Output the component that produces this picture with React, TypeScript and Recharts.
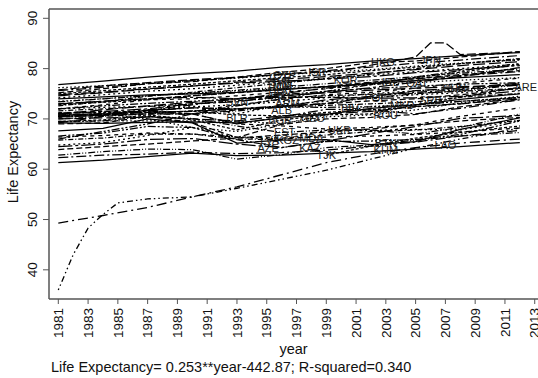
import React from 'react';
import { ComposedChart, Line, Scatter, XAxis, YAxis, ReferenceLine, Label } from 'recharts';

// ---- data ----
const YEARS = [1981, 1984, 1987, 1990, 1993, 1996, 1999, 2002, 2005, 2008, 2012];

const JPN = [76.8, 77.5, 78.3, 79.0, 79.5, 80.3, 80.8, 81.5, 82.0, 82.6, 83.2];
const HKG = [75.2, 76.0, 77.0, 77.4, 78.3, 79.3, 80.0, 81.2, 81.5, 82.3, 83.4];
const CHE = [75.6, 76.3, 77.0, 77.6, 78.2, 78.9, 79.6, 80.3, 81.1, 81.7, 82.6];
const AUS = [75.0, 75.6, 76.3, 76.9, 77.6, 78.2, 78.8, 79.6, 80.3, 81.0, 81.8];
const SWE = [76.2, 76.6, 77.1, 77.6, 78.1, 78.8, 79.3, 79.8, 80.5, 81.1, 81.7];
const ISR = [74.6, 75.2, 75.9, 76.5, 77.3, 77.9, 78.4, 79.1, 79.8, 80.6, 81.4];
const SGP = [72.6, 73.4, 74.5, 75.3, 76.2, 77.1, 78.0, 78.9, 80.0, 81.0, 82.0];
const KOR = [66.0, 67.5, 69.0, 71.0, 72.6, 74.0, 75.5, 76.8, 78.3, 79.6, 81.0];
const CYP = [74.2, 74.8, 75.5, 76.0, 76.7, 77.4, 78.1, 78.7, 79.4, 80.0, 80.9];
const GRC = [74.8, 75.3, 76.0, 76.6, 77.1, 77.5, 77.9, 78.4, 79.2, 79.8, 80.6];
const PRT = [72.0, 72.8, 73.8, 74.0, 74.6, 75.3, 76.0, 76.8, 77.6, 78.5, 80.2];
const MLT = [73.4, 74.0, 74.6, 75.1, 75.7, 76.3, 77.0, 77.7, 78.4, 79.1, 79.9];
const CUB = [74.0, 74.4, 74.8, 75.0, 75.3, 75.8, 76.4, 77.0, 77.6, 78.2, 78.8];
const CRI = [73.0, 73.5, 74.0, 74.6, 75.2, 75.8, 76.5, 77.3, 78.0, 78.8, 79.6];
const CHL = [69.2, 70.5, 71.8, 72.8, 74.0, 75.0, 76.1, 77.2, 78.0, 78.6, 79.4];
const IRL = [72.8, 73.3, 73.8, 74.6, 75.3, 76.0, 76.3, 77.0, 78.2, 79.3, 80.8];
const QAT = [73.5, 74.0, 74.6, 75.1, 75.6, 76.0, 76.4, 76.9, 77.2, 77.7, 78.2];
const ARE = [71.0, 71.8, 72.6, 73.3, 74.0, 74.6, 75.2, 75.7, 76.1, 76.4, 76.7];
const KWT = [71.6, 72.0, 72.5, 73.0, 73.6, 74.2, 74.6, 74.9, 75.1, 75.5, 76.1];
const BHR = [72.0, 72.6, 73.1, 73.5, 74.0, 74.8, 75.5, 76.0, 76.5, 76.9, 77.2];
const URY = [70.6, 71.1, 71.8, 72.4, 72.8, 73.4, 74.2, 75.0, 75.6, 76.0, 76.9];
const SVN = [71.0, 71.5, 72.0, 73.0, 73.4, 74.5, 75.3, 76.2, 77.3, 78.4, 80.2];
const CZE = [70.3, 70.8, 71.3, 71.5, 72.8, 73.9, 74.8, 75.3, 76.1, 77.1, 78.1];
const POL = [71.0, 70.9, 71.0, 70.9, 71.6, 72.4, 73.1, 74.2, 75.0, 75.6, 76.8];
const HUN = [69.2, 69.1, 69.3, 69.4, 69.2, 70.2, 70.9, 72.1, 72.8, 73.9, 75.0];
const SVK = [70.5, 70.7, 71.0, 71.0, 71.8, 72.6, 73.0, 73.6, 74.0, 74.8, 76.1];
const HRV = [70.6, 71.0, 71.6, 72.2, 72.0, 72.6, 73.0, 74.5, 75.3, 75.8, 76.9];
const BGR = [71.2, 71.3, 71.4, 71.5, 70.8, 70.6, 71.3, 71.8, 72.4, 73.0, 74.3];
const ROU = [69.4, 69.6, 69.6, 69.6, 69.5, 69.1, 70.4, 70.8, 71.8, 73.2, 74.5];
const ALB = [70.5, 71.0, 71.7, 72.2, 72.0, 72.4, 73.8, 74.5, 75.6, 76.2, 77.1];
const MKD = [70.0, 70.5, 71.0, 71.6, 72.0, 72.3, 72.7, 73.0, 73.4, 74.3, 75.1];
const SRB = [70.8, 71.0, 71.3, 71.5, 72.0, 72.4, 72.3, 72.4, 72.8, 73.5, 74.3];
const BIH = [72.0, 72.3, 72.5, 72.6, 71.0, 72.8, 73.5, 74.2, 74.8, 75.2, 76.0];
const MNE = [73.0, 73.5, 74.0, 74.3, 74.0, 74.3, 74.3, 74.1, 74.2, 74.5, 75.6];
const BLR = [71.2, 71.5, 71.3, 71.0, 69.0, 68.6, 68.0, 68.3, 68.8, 70.5, 72.2];
const UKR = [69.5, 69.6, 70.5, 70.1, 68.6, 67.3, 67.8, 67.8, 67.0, 68.3, 71.0];
const RUS = [67.6, 68.1, 70.0, 69.2, 65.2, 65.8, 65.9, 64.9, 65.5, 67.9, 70.2];
const LVA = [69.0, 69.2, 70.5, 69.3, 66.3, 68.9, 70.0, 70.3, 70.9, 72.4, 73.9];
const LTU = [70.4, 70.7, 71.6, 71.0, 69.0, 70.4, 71.9, 71.8, 71.0, 72.1, 73.8];
const EST = [69.5, 69.8, 70.8, 69.8, 67.8, 69.8, 70.8, 71.0, 72.8, 74.3, 76.3];
const ARM = [70.8, 71.0, 70.0, 68.3, 67.5, 69.0, 70.8, 72.5, 72.8, 73.5, 74.2];
const GEO = [70.0, 70.2, 70.4, 70.0, 69.6, 70.6, 71.0, 71.5, 72.5, 73.0, 74.0];
const MDA = [65.8, 66.2, 67.0, 67.0, 66.0, 65.9, 66.8, 67.5, 67.8, 68.5, 69.7];
const KAZ = [66.6, 67.2, 68.5, 68.3, 65.9, 64.3, 65.5, 65.6, 65.9, 66.9, 69.6];
const KGZ = [64.8, 65.3, 66.7, 68.3, 66.3, 66.0, 67.7, 67.7, 67.9, 67.8, 69.7];
const AZE = [64.5, 65.0, 65.9, 66.1, 65.0, 64.3, 65.6, 67.1, 68.5, 70.1, 70.7];
const UZB = [66.4, 66.7, 67.2, 67.0, 66.4, 66.2, 66.4, 66.6, 66.9, 67.4, 68.2];
const TJK = [62.8, 63.5, 64.0, 63.9, 62.0, 62.9, 64.3, 64.8, 65.8, 66.6, 67.3];
const TKM = [61.3, 61.8, 62.5, 63.2, 62.7, 62.8, 63.2, 63.5, 64.0, 64.5, 65.3];
const TUR = [63.9, 64.5, 65.0, 65.6, 66.2, 66.8, 67.4, 68.0, 68.8, 69.6, 70.3];
const MNG = [62.3, 62.8, 63.0, 63.4, 63.1, 63.3, 63.8, 64.6, 65.4, 66.6, 67.7];
const LAO = [49.3, 50.8, 52.4, 54.5, 56.5, 58.9, 61.3, 63.0, 64.3, 65.2, 66.0];
const BTN = [null, null, null, null, null, null, 62.8, 64.6, 66.2, 67.3, 68.6];

const KHM_YEARS = [1981, 1982, 1983, 1984, 1985, 1987, 1990, 1993, 1996, 1999, 2002, 2005, 2008, 2012];
const KHM = [36.0, 43.0, 48.3, 51.0, 53.3, 54.1, 54.5, 56.2, 58.0, 59.8, 62.0, 64.2, 66.0, 68.2];

const MAC_YEARS = [1981, 1985, 1990, 1995, 2000, 2005, 2006, 2007, 2008, 2012];
const MAC = [75.8, 76.8, 77.8, 78.6, 79.6, 82.3, 85.1, 85.1, 82.8, 83.3];

const SERIES_NAMES = ['JPN', 'HKG', 'CHE', 'AUS', 'SWE', 'ISR', 'SGP', 'KOR', 'CYP', 'GRC', 'PRT', 'MLT', 'CUB', 'CRI', 'CHL', 'IRL', 'QAT', 'ARE', 'KWT', 'BHR', 'URY', 'SVN', 'CZE', 'POL', 'HUN', 'SVK', 'HRV', 'BGR', 'ROU', 'ALB', 'MKD', 'SRB', 'BIH', 'MNE', 'BLR', 'UKR', 'RUS', 'LVA', 'LTU', 'EST', 'ARM', 'GEO', 'MDA', 'KAZ', 'KGZ', 'AZE', 'UZB', 'TJK', 'TKM', 'TUR', 'MNG', 'BTN'];
const SERIES_VALUES = [JPN, HKG, CHE, AUS, SWE, ISR, SGP, KOR, CYP, GRC, PRT, MLT, CUB, CRI, CHL, IRL, QAT, ARE, KWT, BHR, URY, SVN, CZE, POL, HUN, SVK, HRV, BGR, ROU, ALB, MKD, SRB, BIH, MNE, BLR, UKR, RUS, LVA, LTU, EST, ARM, GEO, MDA, KAZ, KGZ, AZE, UZB, TJK, TKM, TUR, MNG, BTN];

const LABEL_CODES = ['SVN', 'BLR', 'ALB', 'BGR', 'GEO', 'EST', 'LVA', 'KGZ', 'AZE', 'MDA', 'UKR', 'KAZ', 'TJK', 'HKG', 'JPN', 'IRL', 'QAT', 'ARE', 'ROU', 'POL', 'MKD', 'SRB', 'CHN', 'BIH', 'BTN', 'KHM', 'LAO', 'CZE', 'SVK', 'HUN', 'HRV', 'LTU', 'ISR', 'KOR', 'CYP', 'MNE', 'ARM'];
const LABEL_YEARS = [1993.0, 1993.0, 1996.0, 1995.9, 1998.1, 1996.2, 1995.2, 1996.4, 1995.1, 1998.0, 1999.9, 1997.9, 1999.0, 2002.8, 2006.0, 2003.3, 2005.1, 2012.4, 2003.0, 2002.3, 2004.1, 2006.0, 2007.6, 2000.6, 2003.0, 2003.0, 2007.0, 1995.9, 1995.9, 1995.9, 1995.9, 1995.9, 1998.4, 2000.3, 1996.2, 1996.2, 1996.4];
const LABEL_VALUES = [73.4, 70.2, 71.8, 69.8, 70.2, 67.4, 65.8, 65.8, 64.3, 66.2, 67.8, 64.3, 62.9, 81.35, 81.7, 77.4, 77.2, 76.4, 70.8, 74.2, 72.8, 73.8, 76.2, 72.2, 65.2, 63.9, 64.9, 78.3, 77.3, 76.3, 75.3, 74.3, 79.4, 77.8, 78.8, 76.8, 73.2];

const X_TICKS = [1981, 1983, 1985, 1987, 1989, 1991, 1993, 1995, 1997, 1999, 2001, 2003, 2005, 2007, 2009, 2011, 2013];
const Y_TICKS = [40, 50, 60, 70, 80, 90];

// ---- styles ----
const DASHES = ['', '6 3', '10 3 2 3', '3 2', '1.5 2.5', '12 4', '5 2 1 2', '8 2 2 2 2 2', '2 3', '14 3 3 3', '4 4', '7 2 1 2 1 2'];
const FONT = '"Liberation Sans", Arial, Helvetica, sans-serif';
const AXIS_COLOR = '#555';

const seriesData = SERIES_VALUES.map((vals) =>
  YEARS.map((y, i) => ({ year: y, v: vals[i] })).filter((d) => d.v !== null)
);
const laoData = YEARS.map((y, i) => ({ year: y, v: LAO[i] }));
const khmData = KHM_YEARS.map((y, i) => ({ year: y, v: KHM[i] }));
const macData = MAC_YEARS.map((y, i) => ({ year: y, v: MAC[i] }));
const labelData = LABEL_CODES.map((c, i) => ({ year: LABEL_YEARS[i], v: LABEL_VALUES[i], code: c }));

const renderXTick = (props: any) => {
  const { x, y, payload } = props;
  const ay = Number(y) + 2;
  return (
    <g key={`xt-${payload.value}`} transform={`translate(${x} ${ay}) rotate(-90)`}>
      <text x={0} y={0} textAnchor="end" dy="0.35em" fontFamily={FONT} fontSize={13.5} fill="#111">{payload.value}</text>
    </g>
  );
};

const renderYTick = (props: any) => {
  const { y, payload } = props;
  return (
    <g key={`yt-${payload.value}`} transform={`translate(32 ${y}) rotate(-90)`}>
      <text x={0} y={0} textAnchor="middle" dy="0.35em" fontFamily={FONT} fontSize={13.5} fill="#111">{payload.value}</text>
    </g>
  );
};

const LabelShape = (props: any) => {
  const { cx, cy, payload } = props;
  return (
    <text x={cx} y={cy} textAnchor="middle" dy="0.36em" fontFamily={FONT} fontSize={11}
      fill="#1a1a1a">{payload.code}</text>
  );
};

const XTitle = (props: any) => {
  const vb = props.viewBox || { x: 49, y: 299, width: 489, height: 79 };
  return (
    <g>
      <text x={vb.x + vb.width / 2} y={vb.y + 55} textAnchor="middle" fontFamily={FONT} fontSize={14.5} fill="#111">year</text>
      <text x={vb.x + 2} y={vb.y + 73} textAnchor="start" fontFamily={FONT} fontSize={14.5} fill="#111">
        Life Expectancy= 0.253**year-442.87; R-squared=0.340
      </text>
    </g>
  );
};

const YTitle = (props: any) => {
  const vb = props.viewBox || { x: 0, y: 9, width: 49, height: 290 };
  const cx = vb.x + 13;
  const cy = vb.y + vb.height / 2 - 2;
  return (
    <g transform={`translate(${cx} ${cy}) rotate(-90)`}>
      <text x={0} y={0} textAnchor="middle" dy="0.35em" fontFamily={FONT} fontSize={14.5} fill="#111">Life Expectancy</text>
    </g>
  );
};

export default function App() {
  return (
    <div style={{ position: 'absolute', left: 0, top: 0, width: 538, height: 378, background: '#fff' }}>
      <ComposedChart width={538} height={378} margin={{ top: 9, right: 0, bottom: 0, left: 0 }}>
        <XAxis dataKey="year" type="number" domain={[1980.375, 2013.22]} ticks={X_TICKS} allowDataOverflow
          height={79} tickSize={5} tick={renderXTick} interval={0}
          axisLine={{ stroke: AXIS_COLOR, strokeWidth: 1.5 }} tickLine={{ stroke: AXIS_COLOR }}>
          <Label content={<XTitle />} />
        </XAxis>
        <YAxis type="number" domain={[34.2, 91.85]} ticks={Y_TICKS} allowDataOverflow width={49}
          tickSize={6} tick={renderYTick} interval={0}
          axisLine={{ stroke: AXIS_COLOR, strokeWidth: 1.5 }} tickLine={{ stroke: AXIS_COLOR }}>
          <Label content={<YTitle />} />
        </YAxis>
        <ReferenceLine y={91.85} stroke={AXIS_COLOR} strokeWidth={1.5} ifOverflow="visible" />
        {seriesData.map((d, i) => (
          <Line key={SERIES_NAMES[i]} data={d} dataKey="v" name={SERIES_NAMES[i]} type="linear"
            stroke="#000" strokeWidth={1.25} strokeDasharray={DASHES[i % DASHES.length]}
            dot={false} activeDot={false} isAnimationActive={false} />
        ))}
        <Line data={laoData} dataKey="v" name="LAO" type="linear" stroke="#000" strokeWidth={1.3}
          strokeDasharray="10 4 2 4" dot={false} activeDot={false} isAnimationActive={false} />
        <Line data={khmData} dataKey="v" name="KHM" type="linear" stroke="#000" strokeWidth={1.3}
          strokeDasharray="1.5 3 1.5 3 6 3" dot={false} activeDot={false} isAnimationActive={false} />
        <Line data={macData} dataKey="v" name="MAC" type="linear" stroke="#000" strokeWidth={1.2}
          strokeDasharray="9 3" dot={false} activeDot={false} isAnimationActive={false} />
        <Scatter data={labelData} dataKey="v" shape={<LabelShape />} isAnimationActive={false} />
      </ComposedChart>
    </div>
  );
}
